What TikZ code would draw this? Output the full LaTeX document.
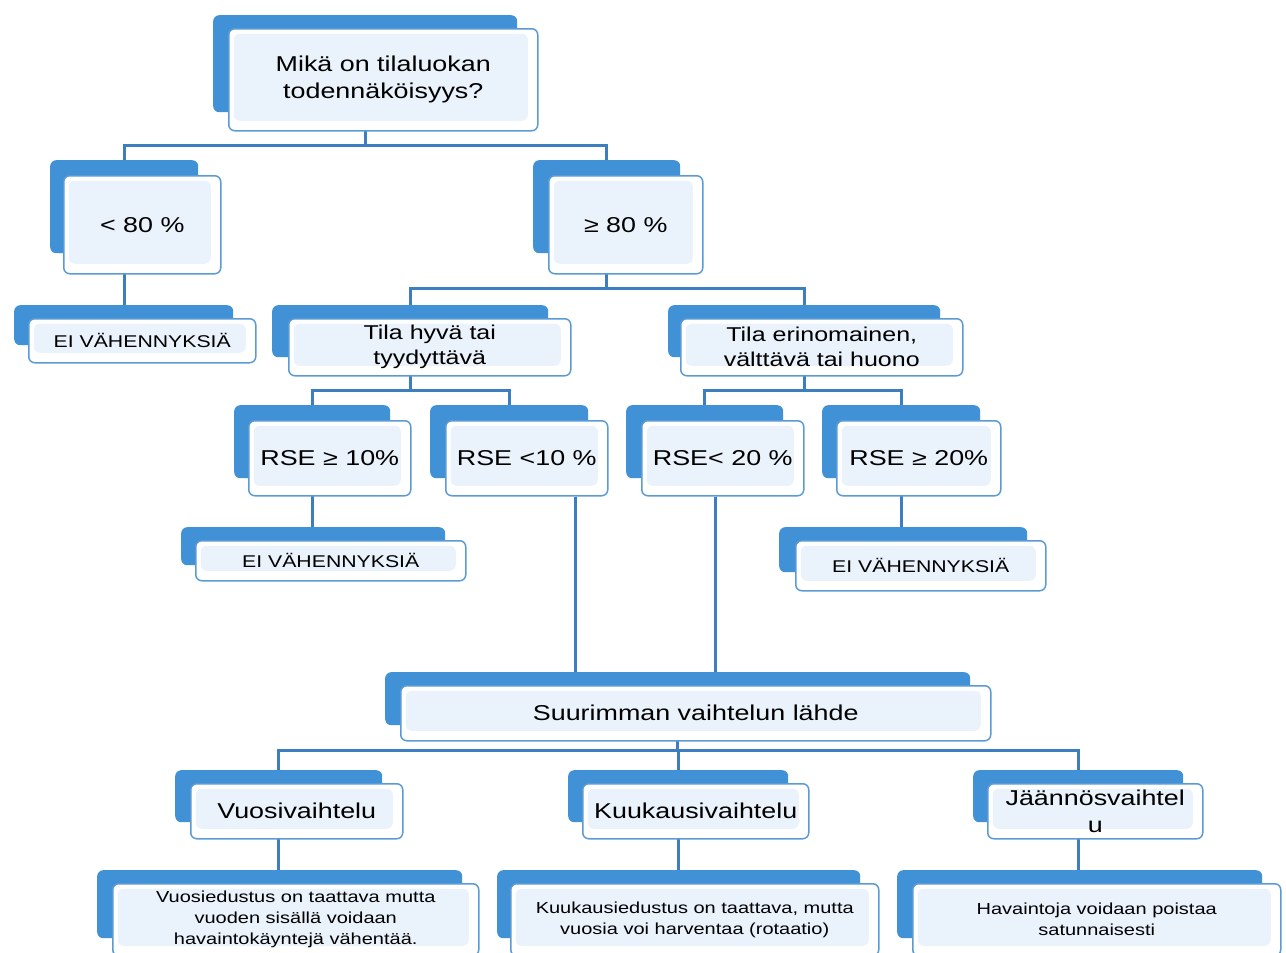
\documentclass[tikz,border=0pt]{standalone}
\usepackage{fontspec}
\setmainfont{Liberation Sans}[FakeStretch=1.25]
\usetikzlibrary{%
  backgrounds,
  calc,
  positioning
}
\definecolor{backblue}{HTML}{4191D6}
\definecolor{lineblue}{HTML}{3C7EC0}
\definecolor{rimblue}{HTML}{5B9BD5}
\definecolor{paleblue}{HTML}{EAF2FB}

\begin{document}
\begin{tikzpicture}[x=1pt, y=-1pt,
    back/.style={fill=backblue, rounded corners=6, anchor=north west, inner sep=0},
    front/.style={fill=white, draw=rimblue, line width=1.5, rounded corners=6,
      anchor=north west, inner sep=0, align=center,
      path picture={\fill[paleblue] ([shift={(5,5)}]path picture bounding box.north west)
        rectangle ([shift={(-10,-10)}]path picture bounding box.south east);}},
    big/.style={font=\fontsize{21.5}{27}\selectfont},
    mid/.style={font=\fontsize{20}{25}\selectfont},
    small/.style={font=\fontsize{17}{21}\selectfont},
    note/.style={font=\fontsize{16}{21}\selectfont},
    link/.style={draw=lineblue, line width=3}]
  \useasboundingbox (0,0) rectangle (1286,953);

  % question
  \node[back, minimum width=304, minimum height=97] (q-b) at (213,15) {};
  \node[front, big, minimum width=309, minimum height=102] (q) at (228,28)
       {Mikä on tilaluokan\\todennäköisyys?};

  % probability
  \node[back, minimum width=148, minimum height=93] (lo-b) at (50,160) {};
  \node[front, big, minimum width=157, minimum height=98] (lo) at (63,175) {< 80 \%};
  \node[back, minimum width=147, minimum height=93] (hi-b) at (533,160) {};
  \node[front, big, minimum width=154, minimum height=98] (hi) at (548,175) {≥ 80 \%};

  \node[back, minimum width=219, minimum height=40] (ei1-b) at (14,305) {};
  \node[front, small, minimum width=227, minimum height=44] (ei1) at (28,318) {EI VÄHENNYKSIÄ};

  % status
  \node[back, minimum width=276, minimum height=52] (good-b) at (272,305) {};
  \node[front, mid, minimum width=282, minimum height=57] (good) at (288,318)
       {Tila hyvä tai\\tyydyttävä};
  \node[back, minimum width=272, minimum height=52] (poor-b) at (668,305) {};
  \node[front, mid, minimum width=282, minimum height=57] (poor) at (680,318)
       {Tila erinomainen,\\välttävä tai huono};

  % rse
  \node[back, minimum width=156, minimum height=73] (r1-b) at (234,405) {};
  \node[front, big, minimum width=162, minimum height=75] (r1) at (248,420) {RSE ≥ 10\%};
  \node[back, minimum width=158, minimum height=73] (r2-b) at (430,405) {};
  \node[front, big, minimum width=162, minimum height=75] (r2) at (445,420) {RSE <10 \%};
  \node[back, minimum width=157, minimum height=73] (r3-b) at (626,405) {};
  \node[front, big, minimum width=162, minimum height=75] (r3) at (641,420) {RSE< 20 \%};
  \node[back, minimum width=158, minimum height=73] (r4-b) at (822,405) {};
  \node[front, big, minimum width=164, minimum height=75] (r4) at (836,420) {RSE ≥ 20\%};

  \node[back, minimum width=264, minimum height=38] (ei2-b) at (181,527) {};
  \node[front, small, minimum width=270, minimum height=40] (ei2) at (195,540) {EI VÄHENNYKSIÄ};
  \node[back, minimum width=248, minimum height=45] (ei3-b) at (779,527) {};
  \node[front, small, minimum width=250, minimum height=50] (ei3) at (795,540) {EI VÄHENNYKSIÄ};

  % variation
  \node[back, minimum width=585, minimum height=53] (src-b) at (385,672) {};
  \node[front, big, minimum width=590, minimum height=55] (src) at (400,685)
       {Suurimman vaihtelun lähde};

  \node[back, minimum width=207, minimum height=52] (yr-b) at (175,770) {};
  \node[front, big, minimum width=212, minimum height=55] (yr) at (190,783) {Vuosivaihtelu};
  \node[back, minimum width=220, minimum height=52] (mo-b) at (568,770) {};
  \node[front, big, minimum width=226, minimum height=55] (mo) at (582,783) {Kuukausivaihtelu};
  \node[back, minimum width=210, minimum height=52] (res-b) at (973,770) {};
  \node[front, big, minimum width=215, minimum height=55] (res) at (987,783)
       {Jäännösvaihtel\\u};

  \node[back, minimum width=365, minimum height=68] (yrt-b) at (97,870) {};
  \node[front, note, minimum width=366, minimum height=72] (yrt) at (112,883)
       {Vuosiedustus on taattava mutta\\vuoden sisällä voidaan\\havaintokäyntejä vähentää.};
  \node[back, minimum width=363, minimum height=68] (mot-b) at (497,870) {};
  \node[front, note, minimum width=368, minimum height=72] (mot) at (510,883)
       {Kuukausiedustus on taattava, mutta\\vuosia voi harventaa (rotaatio)};
  \node[back, minimum width=365, minimum height=68] (rest-b) at (897,870) {};
  \node[front, note, minimum width=368, minimum height=72] (rest) at (912,883)
       {Havaintoja voidaan poistaa\\satunnaisesti};

  \begin{scope}[on background layer]
    \draw[link] (q-b.south) -- ++(0,33) -| (lo-b.north)
                (q-b.south) ++(0,33) -| (hi-b.north);
    \draw[link] (lo-b.south) -- (lo-b.south |- ei1-b.north);
    \draw[link] (hi-b.south) -- ++(0,35) -| (good-b.north)
                (hi-b.south) ++(0,35) -| (poor-b.north);
    \draw[link] (good-b.south) -- ++(0,33) -| (r1-b.north)
                (good-b.south) ++(0,33) -| (r2-b.north);
    \draw[link] (poor-b.south) -- ++(0,33) -| (r3-b.north)
                (poor-b.south) ++(0,33) -| (r4-b.north);
    \draw[link] (r1-b.south) -- (r1-b.south |- ei2-b.north);
    \draw[link] (r4-b.south) -- (r4-b.south |- ei3-b.north);
    \draw[link] ($(r2.south)+(49,0)$) -- ($(r2.south |- src-b.north)+(49,0)$);
    \draw[link] ($(r3.south)+(-7,0)$) -- ($(r3.south |- src-b.north)+(-7,0)$);
    \draw[link] (src-b.south) -- ++(0,25) -| (yr-b.north)
                (src-b.south) ++(0,25) -| (mo-b.north)
                (src-b.south) ++(0,25) -| (res-b.north);
    \draw[link] (yr-b.south) -- (yr-b.south |- yrt-b.north);
    \draw[link] (mo-b.south) -- (mo-b.south |- mot-b.north);
    \draw[link] (res-b.south) -- (res-b.south |- rest-b.north);
  \end{scope}
\end{tikzpicture}
\end{document}
